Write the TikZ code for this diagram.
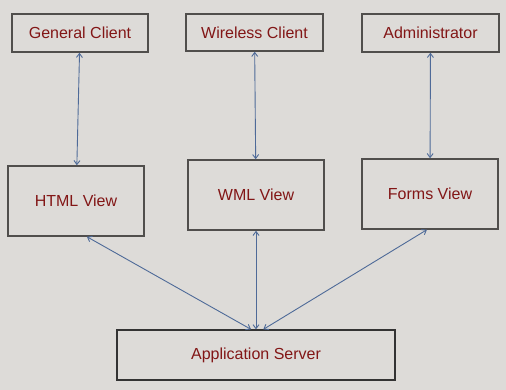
\documentclass[tikz,border=0pt]{standalone}
\usepackage{fontspec}
\setmainfont{Liberation Sans}
\usetikzlibrary{arrows.meta}
\definecolor{bgc}{RGB}{221,219,216}
\definecolor{boxc}{RGB}{80,78,76}
\definecolor{txtc}{RGB}{130,22,22}
\definecolor{linkc}{RGB}{78,106,152}
\tikzset{box/.style={draw=boxc,line width=1.5pt,text=txtc,minimum width=136pt,minimum height=38pt,inner sep=0pt,font=\fontsize{16}{19}\selectfont},
 link/.style={{Straight Barb[length=4pt,width=6pt]}-{Straight Barb[length=4pt,width=6pt]},draw=linkc,line width=0.9pt}}
\begin{document}
\begin{tikzpicture}[x=1pt,y=-1pt]
\fill[bgc] (0,0) rectangle (506,390);
% clients
\node[box] (gc) at (80,33) {General Client};
\node[box,minimum width=137pt,minimum height=37pt] (wc) at (254.5,32.5) {Wireless Client};
\node[box,minimum width=137pt] (adm) at (430.5,33) {Administrator};
% views
\node[box,minimum height=70pt] (html) at (76,201) {HTML View};
\node[box,minimum height=70pt] (wml) at (256,195) {WML View};
\node[box,minimum height=70pt] (forms) at (430,194) {Forms View};
% server
\node[box,minimum width=278pt,minimum height=50pt,draw=black!80,line width=1.3pt] (app) at (256,355) {Application Server};
\draw[link] (gc) -- (html);
\draw[link] (wc) -- (wml);
\draw[link] (adm) -- (forms);
\draw[link] (html.-73) -- (app.101);
\draw[link] (wml) -- (app);
\draw[link] (forms.-95) -- (app.74);
\end{tikzpicture}
\end{document}
